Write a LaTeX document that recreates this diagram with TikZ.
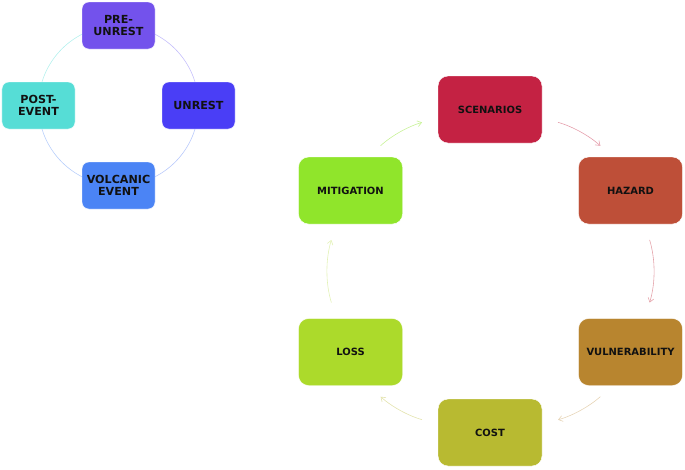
\documentclass[tikz,border=0pt]{standalone}
\usepackage{fontspec}
\setmainfont{DejaVu Sans}
\usepackage{xcolor}
\usepackage{tikz}
\usetikzlibrary{arrows.meta,positioning,backgrounds}
\definecolor{preunrest}{HTML}{7352EC}
\definecolor{unrest}{HTML}{4A3EF6}
\definecolor{volcevent}{HTML}{4B84F5}
\definecolor{postevent}{HTML}{56DDD6}
\definecolor{scenarios}{HTML}{C42243}
\definecolor{hazard}{HTML}{BE4F38}
\definecolor{vulner}{HTML}{B8852F}
\definecolor{cost}{HTML}{B8BA31}
\definecolor{loss}{HTML}{ACDA2B}
\definecolor{mitig}{HTML}{90E52B}
\definecolor{txtdark}{HTML}{111111}

\begin{document}
\begin{tikzpicture}[
    x=0.03cm,y=-0.03cm,
    phase/.style  = {rectangle, rounded corners=0.2cm, draw=white, line width=0.4pt,
                     align=center, font=\fontsize{9.5}{10.5}\selectfont\bfseries,
                     text=txtdark, minimum width=2.19cm, minimum height=1.41cm,
                     inner sep=1pt},
    risk/.style   = {rectangle, rounded corners=0.3cm, draw=white, line width=0.4pt,
                     align=center, font=\fontsize{8.5}{10}\selectfont\bfseries,
                     text=txtdark, minimum width=3.12cm, minimum height=2.01cm,
                     inner sep=1pt},
    ring/.style   = {line width=0.5pt},
    cyc/.style    = {-{Straight Barb[length=3.5pt,width=5pt]}, line width=0.5pt,
                     shorten <=14pt, shorten >=14pt},
  ]

  \useasboundingbox (0,0) rectangle (685,469);

  % Cycle des phases, a gauche
  \node[phase,fill=preunrest] (pre)  at (118.5, 25.5) {PRE-\\UNREST};
  \node[phase,fill=unrest]    (unr)  at (198.5,105.5) {UNREST};
  \node[phase,fill=volcevent] (volc) at (118.5,185.5) {VOLCANIC\\EVENT};
  \node[phase,fill=postevent] (post) at ( 38.5,105.5) {POST-\\EVENT};

  \begin{scope}[on background layer]
    \draw[ring,preunrest!35!unrest!35] (pre.center)  to[bend left=45] (unr.center);
    \draw[ring,unrest!20!volcevent!40] (unr.center)  to[bend left=45] (volc.center);
    \draw[ring,volcevent!40]           (volc.center) to[bend left=45] (post.center);
    \draw[ring,postevent!45]           (post.center) to[bend left=45] (pre.center);
  \end{scope}

  % Cycle du risque, a droite
  \node[risk,fill=scenarios] (scen)  at (490,109.5) {SCENARIOS};
  \node[risk,fill=hazard]    (haz)   at (630.5,190.5) {HAZARD};
  \node[risk,fill=vulner]    (vuln)  at (630.5,352) {VULNERABILITY};
  \node[risk,fill=cost]      (cost)  at (490,432.5) {COST};
  \node[risk,fill=loss]      (loss)  at (350.5,352) {LOSS};
  \node[risk,fill=mitig]     (mitig) at (350.5,190.5) {MITIGATION};

  \draw[cyc,mitig!50]               (mitig.62)  to[bend left=13] (scen.189);
  \draw[cyc,scenarios!45]           (scen.351)  to[bend left=13] (haz.118);
  \draw[cyc,hazard!30!scenarios!45] (haz.-67)   to[bend left=17] (vuln.67);
  \draw[cyc,vulner!35]              (vuln.242)  to[bend left=13] (cost.9);
  \draw[cyc,cost!40]                (cost.171)  to[bend left=13] (loss.298);
  \draw[cyc,loss!35]                (loss.113)  to[bend left=17] (mitig.247);

\end{tikzpicture}
\end{document}
